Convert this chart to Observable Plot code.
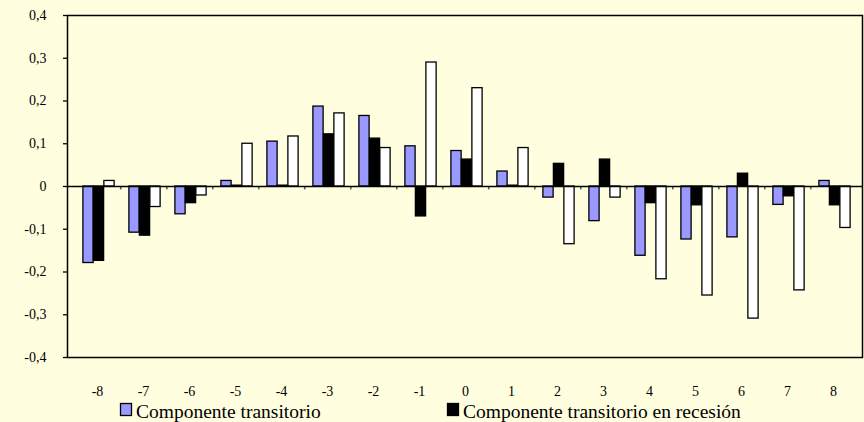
<!DOCTYPE html>
<html>
<head>
<meta charset="utf-8">
<script src="https://cdn.jsdelivr.net/npm/d3@7"></script>
<script src="https://cdn.jsdelivr.net/npm/@observablehq/plot@0.6"></script>
<style>
  html, body { margin: 0; padding: 0; background: #FFFFE0; }
  #chart { width: 864px; height: 422px; overflow: hidden; font-family: "Liberation Serif", "DejaVu Serif", serif; }
  svg { display: block; }
  svg text { font-family: "Liberation Serif", "DejaVu Serif", serif; }
</style>
</head>
<body>
<div id="chart"></div>
<script>
const categories = ["-8","-7","-6","-5","-4","-3","-2","-1","0","1","2","3","4","5","6","7","8"];
const transitorio = [-0.179,-0.108,-0.065,0.013,0.105,0.187,0.165,0.094,0.083,0.035,-0.026,-0.081,-0.162,-0.124,-0.119,-0.043,0.013];
const recesion = [-0.174,-0.115,-0.039,0.002,0.002,0.122,0.112,-0.070,0.063,0.002,0.053,0.063,-0.039,-0.044,0.030,-0.023,-0.044];
const expansion = [0.013,-0.048,-0.021,0.100,0.117,0.171,0.090,0.290,0.230,0.090,-0.135,-0.026,-0.217,-0.255,-0.309,-0.243,-0.097];
const yTicks = [-0.4,-0.3,-0.2,-0.1,0,0.1,0.2,0.3,0.4];
const legendLabels = ["Componente transitorio", "Componente transitorio en recesión"];
const colors = ["#9999FF", "#000000", "#FFFFFF"];

const rows = (vals) => categories.map((c, i) => ({cat: c, value: vals[i]}));
const fmt = d => d === 0 ? "0" : d.toFixed(1).replace(".", ",");

const W = 864, H = 400;
const mL = 67, mR = 2, mT = 15, mB = 43;
const band = (W - mL - mR) / categories.length;
const barW = 11;
const inset = (band - barW) / 2;
const offs = [-9, 1.5, 12];
const FONT = "'Liberation Serif', 'DejaVu Serif', serif";

const barMark = (vals, k) => Plot.barY(rows(vals), {
  x: "cat", y: "value", fill: colors[k], stroke: "#000", strokeWidth: 1.3,
  insetLeft: inset, insetRight: inset, dx: offs[k]
});

const plot = Plot.plot({
  width: W, height: H,
  marginLeft: mL, marginRight: mR, marginTop: mT, marginBottom: mB,
  style: {background: "transparent", fontFamily: FONT, fontSize: "14px", color: "#000"},
  x: {type: "band", domain: categories, padding: 0, axis: null},
  y: {domain: [-0.4, 0.4], axis: null},
  marks: [
    Plot.frame({stroke: "#000", strokeWidth: 1.5}),
    Plot.axisY({ticks: yTicks, tickFormat: fmt, tickSize: 4, tickPadding: 17, label: null, stroke: "#000", strokeWidth: 1.3}),
    Plot.axisX({tickSize: 0, tickPadding: 29, label: null, tickFormat: d => d}),
    barMark(transitorio, 0),
    barMark(recesion, 1),
    barMark(expansion, 2),
    Plot.ruleY([0], {stroke: "#000", strokeWidth: 1.6}),
    Plot.ruleX(categories.slice(0, -1), {x: d => d, dx: band / 2, y1: 0, y2: -0.008, stroke: "#000", strokeWidth: 1})
  ]
});
document.getElementById("chart").appendChild(plot);

// legend below the plot
const leg = d3.select("#chart").append("svg").attr("width", W).attr("height", 22);
const items = [{x: 120, k: 0}, {x: 447, k: 1}];
items.forEach((it, i) => {
  leg.append("rect").attr("x", it.x + 0.5).attr("y", 3.5).attr("width", 11).attr("height", 12)
    .attr("fill", colors[it.k]).attr("stroke", "#000").attr("stroke-width", 1.3);
  leg.append("text").attr("x", it.x + 16).attr("y", 18).attr("font-size", 19.5)
    .attr("fill", "#000").text(legendLabels[i]);
});
</script>
</body>
</html>
